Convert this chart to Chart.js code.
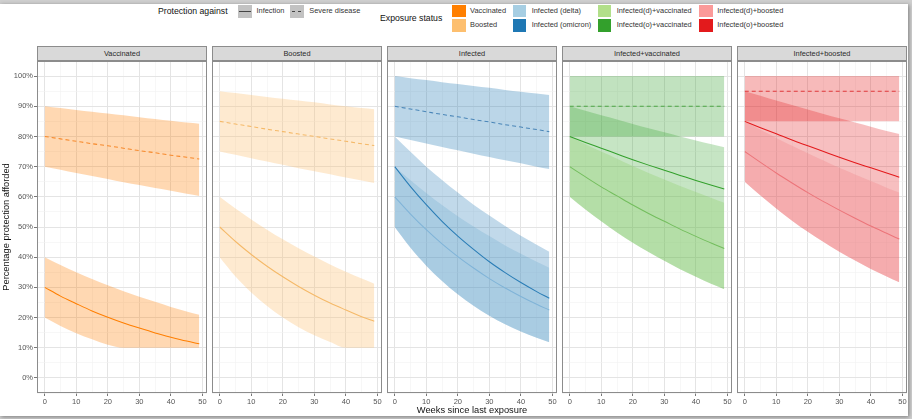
<!DOCTYPE html>
<html><head><meta charset="utf-8">
<script src="https://cdn.jsdelivr.net/npm/chart.js@4.4.1/dist/chart.umd.min.js"></script>
<style>
body{margin:0;width:912px;height:419px;background:#cfcfcf;overflow:hidden;position:relative;font-family:"Liberation Sans",Arial,sans-serif}
#frame{position:absolute;left:0;top:4px;width:908px;height:412px;background:#fff;box-shadow:1px 1px 4px rgba(0,0,0,0.4)}
.strip{position:absolute;top:46px;height:15px;width:170px;background:#d9d9d9;border:1px solid #8c8c8c;box-sizing:border-box;font-size:7.4px;color:#2a2a2a;text-align:center;line-height:13px;white-space:nowrap}
.pborder{position:absolute;top:61px;height:332px;width:170px;border:1px solid #8c8c8c;box-sizing:border-box;pointer-events:none;z-index:5}
canvas{position:absolute}
.lg{position:absolute;white-space:nowrap;color:#111}
.lt{font-size:8.7px;line-height:11px}
.ll{font-size:7.4px;line-height:10px;color:#333}
.key{position:absolute;width:13.5px;height:12.5px}
</style>
</head><body>
<div id="frame"></div>
<div id="legend"></div>
<div id="panels"></div>
<script>
// ---------------- data ----------------
const weeks = [0, 5, 10, 15, 20, 25, 30, 35, 40, 45, 49];

// Vaccinated
const vacInf   = [30, 27.1, 24.6, 22.2, 20.1, 18.2, 16.5, 14.9, 13.5, 12.2, 11.3];
const vacInfHi = [40, 37.4, 35.0, 32.8, 30.7, 28.7, 26.9, 25.2, 23.5, 22.0, 20.9];
const vacInfLo = [20, 17.2, 14.8, 12.8, 11.0, 10, 10, 10, 10, 10, 10];
const vacSev   = [80, 79.2, 78.4, 77.6, 76.9, 76.1, 75.3, 74.6, 73.8, 73.1, 72.5];
const vacSevHi = [90, 89.4, 88.8, 88.2, 87.6, 87.0, 86.4, 85.8, 85.2, 84.6, 84.2];
const vacSevLo = [70, 69.0, 67.9, 66.9, 65.9, 64.8, 63.9, 62.9, 62.0, 61.0, 60.3];

// Boosted
const booInf   = [50, 45.2, 40.9, 37.0, 33.5, 30.3, 27.4, 24.8, 22.5, 20.3, 18.8];
const booInfHi = [60, 56.1, 52.5, 49.1, 45.9, 43.0, 40.2, 37.6, 35.2, 32.9, 31.2];
const booInfLo = [40, 33.6, 28.3, 23.8, 20.0, 16.8, 14.1, 11.9, 10, 10, 10];
const booSev   = [85, 84.1, 83.3, 82.4, 81.6, 80.8, 80.0, 79.2, 78.4, 77.6, 77.0];
const booSevHi = [95, 94.4, 93.7, 93.1, 92.5, 91.9, 91.3, 90.6, 90.0, 89.4, 89.0];
const booSevLo = [75, 73.9, 72.8, 71.7, 70.6, 69.5, 68.5, 67.5, 66.4, 65.4, 64.6];

// Infected
const infSev   = [90, 89.1, 88.2, 87.3, 86.5, 85.6, 84.8, 83.9, 83.1, 82.3, 81.6];
const infSevHi = [100, 99.3, 98.7, 98.0, 97.4, 96.7, 96.1, 95.4, 94.8, 94.2, 93.7];
const infSevLo = [80, 78.8, 77.7, 76.5, 75.4, 74.3, 73.2, 72.1, 71.1, 70.0, 69.2];
const infOmi   = [70, 63.4, 57.4, 51.9, 47.0, 42.6, 38.5, 34.9, 31.6, 28.6, 26.4];
const infOmiHi = [80, 74.9, 70.0, 65.6, 61.4, 57.4, 53.8, 50.3, 47.1, 44.1, 41.8];
const infDel   = [60, 54.3, 49.1, 44.4, 40.2, 36.4, 32.9, 29.8, 27.0, 24.4, 22.5];
const infDelHi = [70, 65.5, 61.3, 57.3, 53.6, 50.2, 47.0, 43.9, 41.1, 38.5, 36.5];
const infLo    = [50, 43.1, 37.2, 32.1, 27.7, 23.9, 20.6, 17.8, 15.4, 13.3, 11.8];

// Infected+vaccinated
const ivSev   = [90, 90, 90, 90, 90, 90, 90, 90, 90, 90, 90];
const ivSevHi = [100, 100, 100, 100, 100, 100, 100, 100, 100, 100, 100];
const ivSevLo = [80, 80, 80, 80, 80, 80, 80, 80, 80, 80, 80];
const ivO     = [80, 78.0, 76.1, 74.2, 72.3, 70.5, 68.8, 67.1, 65.4, 63.8, 62.6];
const ivOHi   = [90, 88.5, 87.0, 85.6, 84.1, 82.7, 81.4, 80.0, 78.7, 77.4, 76.4];
const ivD     = [70, 66.6, 63.3, 60.3, 57.3, 54.5, 51.9, 49.3, 46.9, 44.6, 42.9];
const ivDHi   = [80, 77.4, 75.0, 72.6, 70.2, 67.9, 65.7, 63.6, 61.6, 59.6, 58.0];
const ivLo    = [60, 55.8, 51.9, 48.2, 44.8, 41.7, 38.8, 36.0, 33.5, 31.1, 29.4];

// Infected+boosted
const ibSev   = [95, 95, 95, 95, 95, 95, 95, 95, 95, 95, 95];
const ibSevHi = [100, 100, 100, 100, 100, 100, 100, 100, 100, 100, 100];
const ibSevLo = [85, 85, 85, 85, 85, 85, 85, 85, 85, 85, 85];
const ibO     = [85, 82.9, 80.9, 78.8, 76.9, 75.0, 73.1, 71.3, 69.6, 67.9, 66.5];
const ibOHi   = [95, 93.5, 91.9, 90.4, 88.9, 87.4, 86.0, 84.6, 83.2, 81.8, 80.8];
const ibD     = [75, 71.4, 67.9, 64.6, 61.4, 58.4, 55.6, 52.9, 50.3, 47.9, 46.0];
const ibDHi   = [85, 82.2, 79.5, 76.9, 74.4, 72.0, 69.6, 67.4, 65.2, 63.0, 61.4];
const ibLo    = [65, 60.4, 56.1, 52.1, 48.4, 45.0, 41.8, 38.9, 36.1, 33.6, 31.7];

const panelTitles = ['Vaccinated', 'Boosted', 'Infected', 'Infected+vaccinated', 'Infected+boosted'];
const protectionLabels = ['Infection', 'Severe disease'];
const statusNames = ['Vaccinated', 'Boosted', 'Infected (delta)', 'Infected (omicron)',
  'Infected(d)+vaccinated', 'Infected(o)+vaccinated', 'Infected(d)+boosted', 'Infected(o)+boosted'];
const statusColors = ['#FF7F00', '#FDBF6F', '#A6CEE3', '#1F78B4', '#B2DF8A', '#33A02C', '#FB9A99', '#E31A1C'];
const xTitle = 'Weeks since last exposure';
const yTitle = 'Percentage protection afforded';

// ---------------- styling / layout ----------------
const FONT = '"Liberation Sans", Arial, sans-serif';
Chart.defaults.font.family = FONT;
const panelLeft = [37, 212, 387, 562, 737];
const PW = 170;

const panels = [
  { ribbons: [[vacSevHi, vacSevLo, 'rgba(255,127,0,0.3)'], [vacInfHi, vacInfLo, 'rgba(255,127,0,0.3)']],
    lines: [[vacSev, '#F7892A', true], [vacInf, '#FF7F00', false]] },
  { ribbons: [[booSevHi, booSevLo, 'rgba(253,191,111,0.33)'], [booInfHi, booInfLo, 'rgba(253,191,111,0.33)']],
    lines: [[booSev, '#F5B968', true], [booInf, '#F5B968', false]] },
  { ribbons: [[infSevHi, infSevLo, 'rgba(31,120,180,0.3)'], [infOmiHi, infLo, 'rgba(31,120,180,0.28)'], [infDelHi, infLo, 'rgba(113,172,210,0.3)']],
    lines: [[infSev, '#4A86B8', true], [infOmi, '#2A7DB6', false], [infDel, '#80B4D8', false]] },
  { ribbons: [[ivSevHi, ivSevLo, 'rgba(51,160,44,0.3)'], [ivOHi, ivLo, 'rgba(51,160,44,0.28)'], [ivDHi, ivLo, 'rgba(140,205,100,0.3)']],
    lines: [[ivSev, '#4DA646', true], [ivO, '#33A02C', false], [ivD, '#74BE5E', false]] },
  { ribbons: [[ibSevHi, ibSevLo, 'rgba(227,26,28,0.3)'], [ibOHi, ibLo, 'rgba(227,26,28,0.28)'], [ibDHi, ibLo, 'rgba(238,128,134,0.3)']],
    lines: [[ibSev, '#E0393B', true], [ibO, '#E31A1C', false], [ibD, '#EC757A', false]] }
];

const pts = arr => arr.map((v, i) => ({ x: weeks[i], y: v }));

function buildDatasets(p) {
  const ds = []; let ord = 100;
  p.ribbons.forEach(([hi, lo, col]) => {
    ds.push({ data: pts(hi), fill: '+1', backgroundColor: col, borderColor: 'rgba(0,0,0,0)', borderWidth: 0,
      pointRadius: 0, order: ord, cubicInterpolationMode: 'monotone' });
    ds.push({ data: pts(lo), fill: false, backgroundColor: 'rgba(0,0,0,0)', borderColor: 'rgba(0,0,0,0)', borderWidth: 0,
      pointRadius: 0, order: ord, cubicInterpolationMode: 'monotone' });
    ord--;
  });
  p.lines.forEach(([d, col, dash]) => ds.push({ data: pts(d), borderColor: col, borderWidth: 1.05,
    borderDash: dash ? [4, 3] : [], pointRadius: 0, fill: false, order: 0, cubicInterpolationMode: 'monotone' }));
  return ds;
}

const isMajor = ctx => ctx.tick && Math.round(ctx.tick.value) % 10 === 0;
const gridCfg = (ticks) => ({
  color: ctx => isMajor(ctx) ? '#e4e4e4' : '#f1f1f1',
  lineWidth: ctx => isMajor(ctx) ? 1 : 0.6,
  drawTicks: ticks, tickLength: 3, tickWidth: 1,
  tickColor: ctx => isMajor(ctx) ? '#777' : 'rgba(0,0,0,0)'
});

const legendEl = document.getElementById('legend');
function addDiv(parent, cls, style, text) {
  const d = document.createElement('div'); d.className = cls; d.setAttribute('style', style);
  if (text !== undefined) d.textContent = text; parent.appendChild(d); return d;
}
// legend: protection against
addDiv(legendEl, 'lg lt', 'left:158px;top:5.5px', 'Protection against');
const protKeyX = [238, 290], protLabX = [256.5, 309.3];
protectionLabels.forEach((lab, i) => {
  const k = addDiv(legendEl, 'key', `left:${protKeyX[i]}px;top:5px;background:#c2c2c2`);
  addDiv(k, '', i === 0 ? 'position:absolute;left:1px;right:1px;top:5.7px;height:1.1px;background:#444'
    : 'position:absolute;left:2px;right:1px;top:5.7px;height:1.1px;background:repeating-linear-gradient(90deg,#444 0 3px,transparent 3px 6px)');
  addDiv(legendEl, 'lg ll', `left:${protLabX[i]}px;top:6px`, lab);
});
// legend: exposure status
addDiv(legendEl, 'lg lt', 'left:380px;top:13px', 'Exposure status');
const colKeyX = [452, 512.7, 597.7, 699], colLabX = [470, 531.7, 616.7, 717.3], rowKeyY = [4.5, 19], rowLabY = [6, 20];
statusNames.forEach((name, i) => {
  const c = Math.floor(i / 2), r = i % 2;
  addDiv(legendEl, 'key', `left:${colKeyX[c]}px;top:${rowKeyY[r]}px;background:${statusColors[i]}`);
  addDiv(legendEl, 'lg ll', `left:${colLabX[c]}px;top:${rowLabY[r]}px`, name);
});

const panelsEl = document.getElementById('panels');
panels.forEach((p, i) => {
  addDiv(panelsEl, 'strip', `left:${panelLeft[i]}px`, panelTitles[i]);
  const cv = document.createElement('canvas');
  const cLeft = i === 0 ? 0 : panelLeft[i];
  const cW = i === 0 ? panelLeft[0] + PW : PW;
  cv.width = cW; cv.height = 358;
  cv.setAttribute('style', `left:${cLeft}px;top:61px;width:${cW}px;height:358px`);
  panelsEl.appendChild(cv);
  addDiv(panelsEl, 'pborder', `left:${panelLeft[i]}px`);
  new Chart(cv, {
    type: 'line',
    data: { datasets: buildDatasets(p) },
    options: {
      responsive: false, animation: false, devicePixelRatio: window.devicePixelRatio || 1,
      layout: { padding: 0 },
      plugins: { legend: { display: false }, tooltip: { enabled: false } },
      scales: {
        x: {
          type: 'linear', min: -2.45, max: 51.45,
          ticks: { stepSize: 5, includeBounds: false, autoSkip: false, maxRotation: 0, padding: 1,
            font: { size: 7.5 }, color: '#555', callback: v => (Math.round(v) % 10 === 0 ? String(v) : '') },
          grid: gridCfg(true),
          border: { display: false },
          title: { display: i === 2, text: xTitle, font: { size: 9.3 }, color: '#111', padding: { top: 0, bottom: 2.7 } },
          afterFit: s => { s.height = 26; s.paddingLeft = 0; s.paddingRight = 0; }
        },
        y: {
          type: 'linear', min: -5, max: 105,
          ticks: { display: i === 0, stepSize: 5, includeBounds: false, autoSkip: false, padding: 1,
            font: { size: 7.5 }, color: '#555', callback: v => (Math.round(v) % 10 === 0 ? v + '%' : '') },
          grid: gridCfg(i === 0),
          border: { display: false },
          title: { display: i === 0, text: yTitle, font: { size: 9.3 }, color: '#111', padding: { top: 1, bottom: 0 } },
          afterFit: s => { s.width = i === 0 ? 37 : 0; s.paddingTop = 0; s.paddingBottom = 0; }
        }
      }
    }
  });
});
</script>
</body></html>
